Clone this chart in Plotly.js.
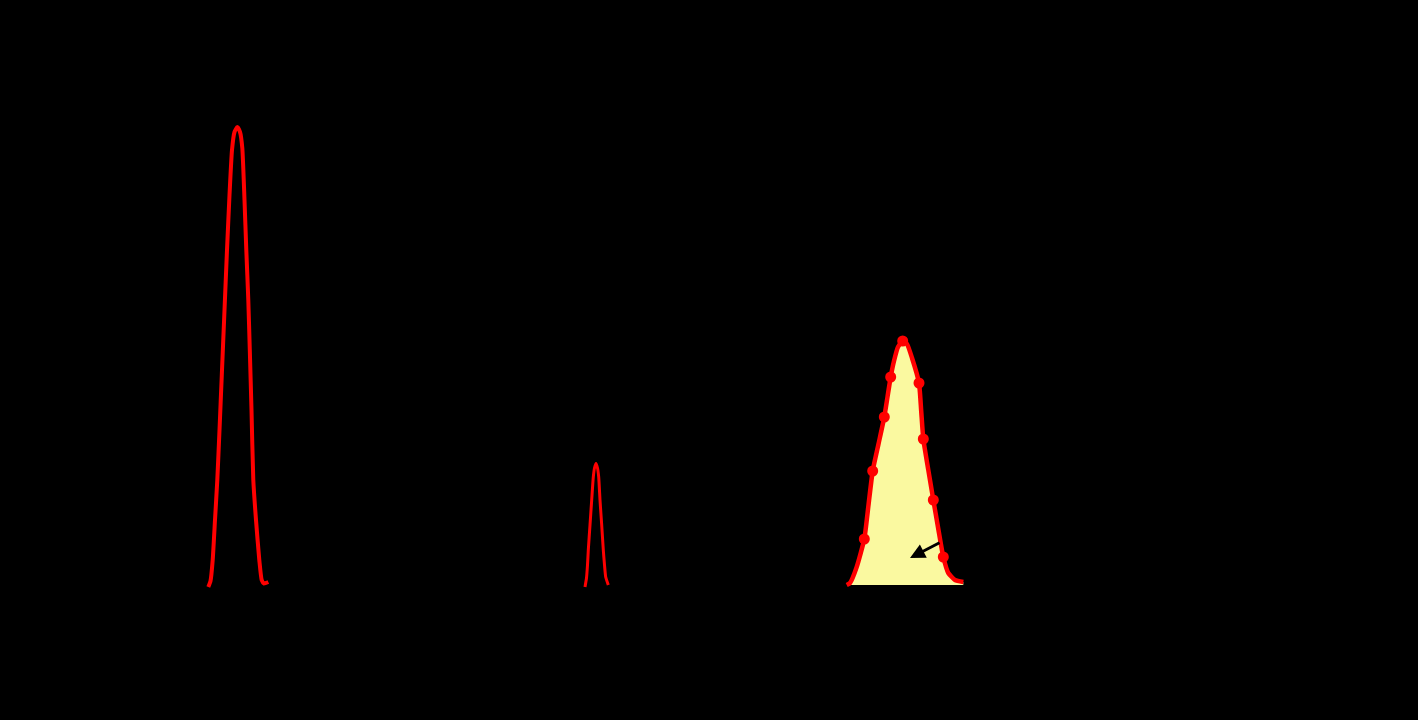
<!DOCTYPE html>
<html>
<head>
<meta charset="utf-8">
<script src="https://cdn.plot.ly/plotly-3.0.1.min.js"></script>
<style>
  html, body { margin: 0; padding: 0; background: #000; }
  #chart { width: 1418px; height: 720px; }
</style>
</head>
<body>
<div id="chart"></div>
<script>
// Chromatogram: three peaks, the last one integrated (filled) with sampled points.

const peak1Time   = [2.083, 2.105, 2.127, 2.150, 2.173, 2.195, 2.218, 2.243, 2.270, 2.295, 2.320, 2.345, 2.373,
                     2.400, 2.423, 2.445, 2.463, 2.483, 2.498, 2.515, 2.533, 2.560, 2.593, 2.617, 2.640, 2.683];
const peak1Signal = [-0.02, 0.04, 0.25, 0.65, 1.05, 1.55, 2.10, 2.70, 3.35, 3.90, 4.35, 4.53, 4.58,
                     4.53, 4.37, 3.85, 3.35, 2.85, 2.35, 1.75, 1.05, 0.65, 0.25, 0.05, 0.015, 0.03];

const peak2Time   = [5.850, 5.865, 5.875, 5.883, 5.900, 5.917, 5.933, 5.945, 5.960,
                     5.975, 5.987, 6.000, 6.017, 6.033, 6.045, 6.057, 6.083];
const peak2Signal = [-0.02, 0.07, 0.20, 0.35, 0.60, 0.85, 1.08, 1.17, 1.215,
                     1.17, 1.08, 0.85, 0.60, 0.35, 0.20, 0.08, 0.00];

const peak3Time   = [8.467, 8.500, 8.567, 8.643, 8.685, 8.727, 8.785, 8.843, 8.875, 8.907, 8.940, 8.980, 9.027,
                     9.070, 9.120, 9.190, 9.212, 9.233, 9.283, 9.333, 9.383, 9.433, 9.483, 9.550, 9.633];
const peak3Signal = [0.00, 0.02, 0.18, 0.46, 0.80, 1.14, 1.41, 1.68, 1.88, 2.08, 2.24, 2.38, 2.44,
                     2.41, 2.27, 2.02, 1.74, 1.46, 1.15, 0.85, 0.56, 0.28, 0.12, 0.05, 0.03];

// sampled points marked on the integrated peak
const sampleTime   = [9.027, 8.907, 9.190, 8.843, 9.233, 8.727, 9.333, 8.643, 9.433];
const sampleSignal = [2.44, 2.08, 2.02, 1.68, 1.46, 1.14, 0.85, 0.46, 0.28];

const RED = '#FF0000';

const traces = [
  {
    type: 'scatter', mode: 'lines',
    x: peak1Time, y: peak1Signal,
    line: { color: RED, width: 4, shape: 'spline', smoothing: 0.5 },
    hoverinfo: 'skip',
  },
  {
    type: 'scatter', mode: 'lines',
    x: peak2Time, y: peak2Signal,
    line: { color: RED, width: 3, shape: 'spline', smoothing: 0.5 },
    hoverinfo: 'skip',
  },
  {
    type: 'scatter', mode: 'lines',
    x: peak3Time, y: peak3Signal,
    fill: 'tozeroy', fillcolor: 'rgb(250,249,160)',
    line: { color: RED, width: 4.5, shape: 'spline', smoothing: 0.5 },
    hoverinfo: 'skip',
  },
  {
    type: 'scatter', mode: 'markers',
    x: sampleTime, y: sampleSignal,
    marker: { color: RED, size: 11 },
    hoverinfo: 'skip',
  },
];

const hiddenAxis = {
  visible: false, showgrid: false, zeroline: false, showticklabels: false,
};

const layout = {
  width: 1418, height: 720,
  paper_bgcolor: '#000000',
  plot_bgcolor:  '#000000',
  showlegend: false,
  margin: { l: 0, r: 0, t: 0, b: 0 },
  xaxis: Object.assign({}, hiddenAxis, { range: [0, 14.18] }),
  yaxis: Object.assign({}, hiddenAxis, { range: [-1.35, 5.85] }),
  annotations: [{
    x: 9.10, y: 0.27, xref: 'x', yref: 'y',
    ax: 9.41, ay: 0.43, axref: 'x', ayref: 'y',
    text: '', showarrow: true,
    arrowhead: 2, arrowsize: 1, arrowwidth: 3, arrowcolor: '#000000',
  }],
};

Plotly.newPlot('chart', traces, layout, { displayModeBar: false, staticPlot: true });
</script>
</body>
</html>
